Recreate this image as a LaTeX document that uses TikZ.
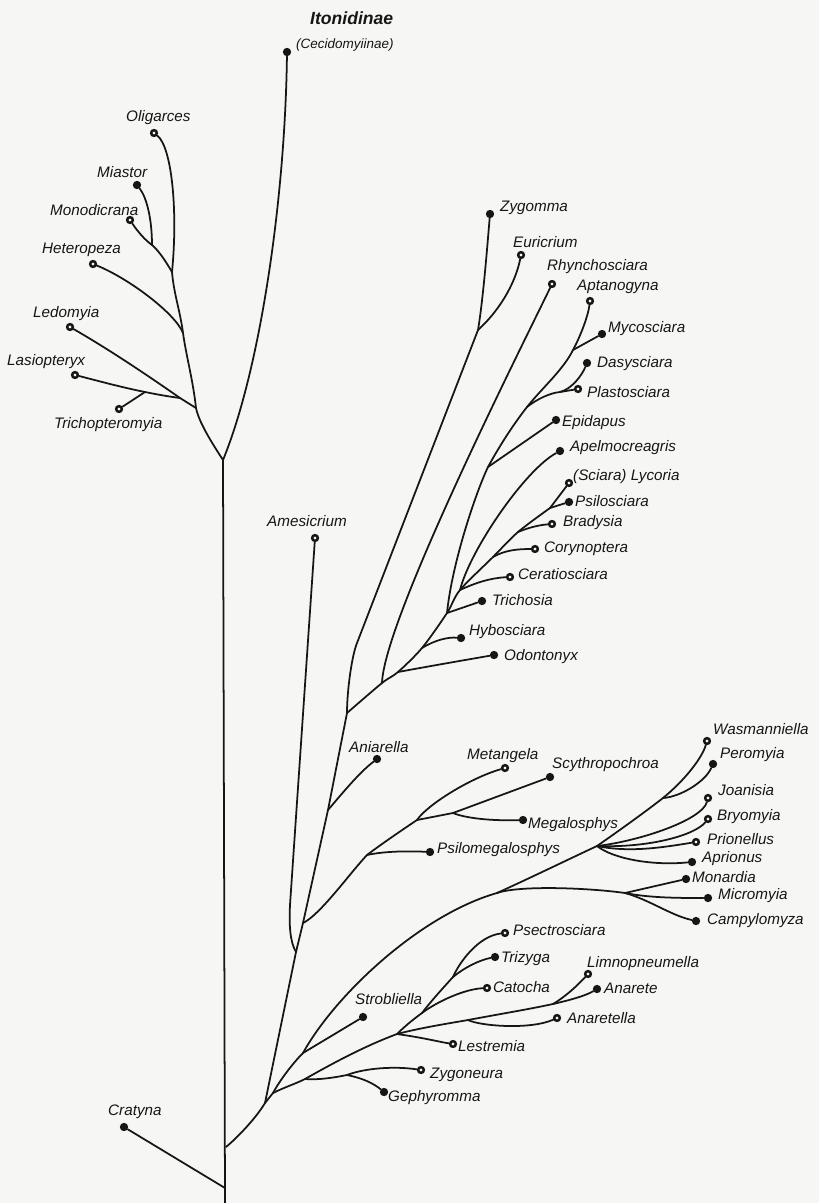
\documentclass[tikz,border=0pt]{standalone}
\usepackage{fontspec}
\setmainfont{Liberation Sans}
\usepackage{tikz}
\usetikzlibrary{positioning}
\definecolor{paper}{RGB}{246,246,244}
\definecolor{ink}{RGB}{22,22,22}

\begin{document}
\begin{tikzpicture}[x=0.03cm, y=-0.03cm,
    branch/.style={draw=ink, line width=1.5pt, line cap=round},
    fulldot/.style={circle, fill=ink, inner sep=0pt, minimum size=0.25cm},
    ringdot/.style={circle, draw=ink, fill=paper, line width=0.075cm,
                    inner sep=0pt, minimum size=0.17cm}, 
    lbl/.style={font=\fontsize{13}{15}\selectfont\itshape, text=ink,
                inner sep=0pt, anchor=west}]
  \useasboundingbox (0,0) rectangle (819,1203);
  \fill[paper] (0,0) rectangle (819,1203);

  % leaves: upper left group
  \node[fulldot] (itonidinae) at (287,52) {};
  \node[ringdot] (oligarces) at (154,133) {};
  \node[fulldot] (miastor) at (137,185) {};
  \node[ringdot] (monodicrana) at (130,220) {};
  \node[ringdot] (heteropeza) at (93,264) {};
  \node[ringdot] (ledomyia) at (70,327) {};
  \node[ringdot] (lasiopteryx) at (75,375) {};
  \node[ringdot] (trichopteromyia) at (119,409) {};
  % leaves: sciara group
  \node[fulldot] (zygomma) at (490,214) {};
  \node[ringdot] (euricrium) at (521,255) {};
  \node[ringdot] (rhynchosciara) at (552,284) {};
  \node[ringdot] (aptanogyna) at (590,301) {};
  \node[fulldot] (mycosciara) at (602,334) {};
  \node[fulldot] (dasysciara) at (587,363) {};
  \node[ringdot] (plastosciara) at (578,389) {};
  \node[fulldot] (epidapus) at (556,420) {};
  \node[fulldot] (apelmocreagris) at (560,451) {};
  \node[ringdot] (lycoria) at (569,483) {};
  \node[fulldot] (psilosciara) at (569,502) {};
  \node[ringdot] (bradysia) at (552,524) {};
  \node[ringdot] (corynoptera) at (535,549) {};
  \node[ringdot] (ceratiosciara) at (510,577) {};
  \node[fulldot] (trichosia) at (482,601) {};
  \node[fulldot] (hybosciara) at (461,638) {};
  \node[fulldot] (odontonyx) at (494,655) {};
  \node[ringdot] (amesicrium) at (315,538) {};
  \node[fulldot] (aniarella) at (377,759) {};
  % leaves: metangela group
  \node[ringdot] (metangela) at (505,768) {};
  \node[fulldot] (scythropochroa) at (550,777) {};
  \node[fulldot] (megalosphys) at (523,820) {};
  \node[fulldot] (psilomegalosphys) at (430,852) {};
  % leaves: right group
  \node[ringdot] (wasmanniella) at (707,741) {};
  \node[fulldot] (peromyia) at (713,764) {};
  \node[ringdot] (joanisia) at (708,798) {};
  \node[ringdot] (bryomyia) at (708,819) {};
  \node[ringdot] (prionellus) at (696,842) {};
  \node[fulldot] (aprionus) at (692,862) {};
  \node[fulldot] (monardia) at (686,879) {};
  \node[fulldot] (micromyia) at (708,898) {};
  \node[fulldot] (campylomyza) at (696,921) {};
  % leaves: lower group
  \node[ringdot] (psectrosciara) at (505,933) {};
  \node[fulldot] (trizyga) at (495,957) {};
  \node[ringdot] (catocha) at (487,988) {};
  \node[ringdot] (limnopneumella) at (588,974) {};
  \node[fulldot] (anarete) at (597,989) {};
  \node[ringdot] (anaretella) at (557,1018) {};
  \node[fulldot] (strobliella) at (363,1017) {};
  \node[ringdot] (lestremia) at (453,1044) {};
  \node[ringdot] (zygoneura) at (421,1070) {};
  \node[fulldot] (gephyromma) at (384,1092) {};
  \node[fulldot] (cratyna) at (124,1127) {};

  % junctions
  \coordinate (fork) at (223,460);
  \coordinate (root) at (225,1203);
  \coordinate (l1) at (196,408);
  \coordinate (l2) at (183,333);
  \coordinate (l3) at (172,272);
  \coordinate (l4) at (152,245);
  \coordinate (l5) at (180,398);
  \coordinate (l6) at (145,392);
  \coordinate (s0) at (347,713);
  \coordinate (s1) at (382,683);
  \coordinate (s2) at (398,672);
  \coordinate (s3) at (422,648);
  \coordinate (s4) at (447,613);
  \coordinate (s5) at (460,590);
  \coordinate (s6) at (493,557);
  \coordinate (s7) at (518,532);
  \coordinate (s8) at (550,508);
  \coordinate (a0) at (357,643);
  \coordinate (a1) at (478,330);
  \coordinate (c1) at (488,467);
  \coordinate (c2) at (527,407);
  \coordinate (c3) at (573,350);
  \coordinate (dp) at (560,392);
  \coordinate (p1) at (303,923);
  \coordinate (p2) at (296,952);
  \coordinate (p3) at (265,1103);
  \coordinate (p4) at (226,1147);
  \coordinate (cr) at (225,1188);
  \coordinate (an) at (328,810);
  \coordinate (am) at (290,905);
  \coordinate (mp) at (367,855);
  \coordinate (ms) at (417,820);
  \coordinate (mg) at (453,813);
  \coordinate (la) at (273,1093);
  \coordinate (st) at (303,1053);
  \coordinate (mn0) at (497,893);
  \coordinate (jb) at (597,846);
  \coordinate (wp) at (663,798);
  \coordinate (mn) at (625,893);
  \coordinate (zg0) at (305,1079);
  \coordinate (zg1) at (347,1075);
  \coordinate (le) at (397,1034);
  \coordinate (ct) at (422,1013);
  \coordinate (tp) at (453,977);
  \coordinate (ae) at (468,1020);
  \coordinate (al) at (553,1004);

  % trunk and upper left group
  \draw[branch] (root) -- (fork);
  \draw[branch] (fork) .. controls (260,370) and (285,200) .. (itonidinae);
  \draw[branch] (fork) .. controls (210,440) and (199,422) .. (l1)
    .. controls (193,380) and (186,355) .. (l2)
    .. controls (180,310) and (174,295) .. (l3)
    .. controls (178,212) and (172,147) .. (oligarces);
  \draw[branch] (l3) .. controls (166,262) and (160,252) .. (l4);
  \draw[branch] (l4) .. controls (152,220) and (147,198) .. (miastor);
  \draw[branch] (l4) .. controls (145,240) and (138,232) .. (monodicrana);
  \draw[branch] (l2) .. controls (175,313) and (128,278) .. (heteropeza);
  \draw[branch] (l1) -- (l5);
  \draw[branch] (l5) .. controls (150,377) and (110,350) .. (ledomyia);
  \draw[branch] (l5) .. controls (165,396) and (155,394) .. (l6)
    .. controls (120,387) and (95,380) .. (lasiopteryx);
  \draw[branch] (l6) -- (trichopteromyia);

  % sciara group
  \draw[branch] (p1) -- (an) -- (s0);
  \draw[branch] (an) .. controls (345,790) and (360,772) .. (aniarella);
  \draw[branch] (s0) .. controls (347,690) and (352,655) .. (a0) -- (a1);
  \draw[branch] (a1) .. controls (483,300) and (487,250) .. (zygomma);
  \draw[branch] (a1) .. controls (498,312) and (515,285) .. (euricrium);
  \draw[branch] plot[smooth, tension=0.5] coordinates
    {(s0) (s1) (s2) (s3) (s4) (s5) (s6) (s7) (s8)};
  \draw[branch] (s1) .. controls (384,620) and (520,350) .. (rhynchosciara);
  \draw[branch] (s2) .. controls (425,667) and (465,660) .. (odontonyx);
  \draw[branch] (s3) .. controls (435,640) and (448,637) .. (hybosciara);
  \draw[branch] (s4) -- (trichosia);
  \draw[branch] (s5) .. controls (475,583) and (490,578) .. (ceratiosciara);
  \draw[branch] (s6) .. controls (505,550) and (518,549) .. (corynoptera);
  \draw[branch] (s7) .. controls (530,527) and (540,525) .. (bradysia);
  \draw[branch] (s8) -- (lycoria);
  \draw[branch] (s8) -- (psilosciara);
  \draw[branch] (s5) .. controls (470,550) and (525,470) .. (apelmocreagris);
  \draw[branch] (s4) .. controls (452,563) and (476,492) .. (c1)
    .. controls (500,445) and (513,425) .. (c2)
    .. controls (543,387) and (563,370) .. (c3)
    .. controls (581,335) and (588,316) .. (aptanogyna);
  \draw[branch] (c1) -- (epidapus);
  \draw[branch] (c3) -- (mycosciara);
  \draw[branch] (c2) .. controls (537,399) and (550,393) .. (dp) -- (plastosciara);
  \draw[branch] (dp) .. controls (572,389) and (582,375) .. (dasysciara);

  % amesicrium and metangela group
  \draw[branch] (p3) -- (p2) -- (p1);
  \draw[branch] (p2) .. controls (290,942) and (289,925) .. (am) -- (amesicrium);
  \draw[branch] (p1) .. controls (320,915) and (350,873) .. (mp)
    .. controls (380,845) and (405,828) .. (ms);
  \draw[branch] (mp) .. controls (385,851) and (410,851) .. (psilomegalosphys);
  \draw[branch] (ms) .. controls (427,805) and (470,778) .. (metangela);
  \draw[branch] (ms) -- (mg) -- (scythropochroa);
  \draw[branch] (mg) .. controls (465,818) and (490,821) .. (megalosphys);

  % lower groups
  \draw[branch] (p4) .. controls (238,1137) and (256,1118) .. (p3) -- (la);
  \draw[branch] (la) .. controls (280,1080) and (293,1063) .. (st)
    .. controls (335,995) and (420,915) .. (mn0)
    .. controls (530,878) and (565,861) .. (jb)
    .. controls (620,830) and (645,812) .. (wp)
    .. controls (685,780) and (702,758) .. (wasmanniella);
  \draw[branch] (wp) .. controls (680,797) and (705,782) .. (peromyia);
  \draw[branch] (jb) .. controls (640,841) and (702,820) .. (joanisia);
  \draw[branch] (jb) .. controls (650,848) and (695,835) .. (bryomyia);
  \draw[branch] (jb) .. controls (630,853) and (665,847) .. (prionellus);
  \draw[branch] (jb) .. controls (612,858) and (650,866) .. (aprionus);
  \draw[branch] (mn0) .. controls (520,885) and (590,888) .. (mn);
  \draw[branch] (mn) -- (monardia);
  \draw[branch] (mn) .. controls (650,898) and (680,898) .. (micromyia);
  \draw[branch] (mn) .. controls (650,900) and (670,915) .. (campylomyza);
  \draw[branch] (st) -- (strobliella);
  \draw[branch] (la) .. controls (285,1087) and (295,1084) .. (zg0)
    .. controls (335,1062) and (365,1046) .. (le);
  \draw[branch] (zg0) .. controls (318,1080) and (332,1078) .. (zg1)
    .. controls (365,1068) and (395,1066) .. (zygoneura);
  \draw[branch] (zg1) .. controls (362,1078) and (373,1083) .. (gephyromma);
  \draw[branch] (le) .. controls (425,1038) and (440,1042) .. (lestremia);
  \draw[branch] (le) .. controls (405,1026) and (415,1018) .. (ct)
    .. controls (432,1000) and (443,988) .. (tp);
  \draw[branch] (ct) .. controls (438,1001) and (465,989) .. (catocha);
  \draw[branch] (tp) .. controls (465,967) and (480,960) .. (trizyga);
  \draw[branch] (tp) .. controls (459,963) and (478,936) .. (psectrosciara);
  \draw[branch] (le) .. controls (420,1028) and (445,1024) .. (ae)
    .. controls (500,1014) and (530,1009) .. (al);
  \draw[branch] (ae) .. controls (480,1026) and (530,1030) .. (anaretella);
  \draw[branch] (al) .. controls (565,997) and (578,985) .. (limnopneumella);
  \draw[branch] (al) .. controls (570,1000) and (585,996) .. (anarete);
  \draw[branch] (cr) -- (cratyna);

  % labels
  \node[lbl, font=\fontsize{15}{17}\selectfont\bfseries\itshape] (itonidinae-t) at (310,18) {Itonidinae};
  \node[lbl, font=\fontsize{11.5}{13}\selectfont\itshape] (cecidomyiinae-t) at (296,45) {(Cecidomyiinae)};
  \node[lbl] (oligarces-t) at (126,118) {Oligarces};
  \node[lbl] (miastor-t) at (97,172) {Miastor};
  \node[lbl] (monodicrana-t) at (50,210) {Monodicrana};
  \node[lbl] (heteropeza-t) at (42,250) {Heteropeza};
  \node[lbl] (ledomyia-t) at (33,314) {Ledomyia};
  \node[lbl] (lasiopteryx-t) at (7,362) {Lasiopteryx};
  \node[lbl] (trichopteromyia-t) at (54,425) {Trichopteromyia};
  \node[lbl] (zygomma-t) at (500,208) {Zygomma};
  \node[lbl] (euricrium-t) at (513,242) {Euricrium};
  \node[lbl] (rhynchosciara-t) at (547,267) {Rhynchosciara};
  \node[lbl] (aptanogyna-t) at (577,287) {Aptanogyna};
  \node[lbl] (mycosciara-t) at (608,329) {Mycosciara};
  \node[lbl] (dasysciara-t) at (597,364) {Dasysciara};
  \node[lbl] (plastosciara-t) at (587,392) {Plastosciara};
  \node[lbl] (epidapus-t) at (562,423) {Epidapus};
  \node[lbl] (apelmocreagris-t) at (570,448) {Apelmocreagris};
  \node[lbl] (lycoria-t) at (573,477) {(Sciara) Lycoria};
  \node[lbl] (psilosciara-t) at (575,501) {Psilosciara};
  \node[lbl] (bradysia-t) at (563,523) {Bradysia};
  \node[lbl] (corynoptera-t) at (544,549) {Corynoptera};
  \node[lbl] (ceratiosciara-t) at (518,574) {Ceratiosciara};
  \node[lbl] (trichosia-t) at (492,600) {Trichosia};
  \node[lbl] (hybosciara-t) at (469,632) {Hybosciara};
  \node[lbl] (odontonyx-t) at (504,657) {Odontonyx};
  \node[lbl] (amesicrium-t) at (267,521) {Amesicrium};
  \node[lbl] (aniarella-t) at (349,747) {Aniarella};
  \node[lbl] (metangela-t) at (467,756) {Metangela};
  \node[lbl] (scythropochroa-t) at (552,765) {Scythropochroa};
  \node[lbl] (megalosphys-t) at (528,825) {Megalosphys};
  \node[lbl] (psilomegalosphys-t) at (437,850) {Psilomegalosphys};
  \node[lbl] (wasmanniella-t) at (713,729) {Wasmanniella};
  \node[lbl] (peromyia-t) at (720,755) {Peromyia};
  \node[lbl] (joanisia-t) at (718,790) {Joanisia};
  \node[lbl] (bryomyia-t) at (717,817) {Bryomyia};
  \node[lbl] (prionellus-t) at (707,839) {Prionellus};
  \node[lbl] (aprionus-t) at (702,859) {Aprionus};
  \node[lbl] (monardia-t) at (692,877) {Monardia};
  \node[lbl] (micromyia-t) at (718,896) {Micromyia};
  \node[lbl] (campylomyza-t) at (707,921) {Campylomyza};
  \node[lbl] (psectrosciara-t) at (513,930) {Psectrosciara};
  \node[lbl] (trizyga-t) at (501,959) {Trizyga};
  \node[lbl] (catocha-t) at (493,987) {Catocha};
  \node[lbl] (limnopneumella-t) at (587,964) {Limnopneumella};
  \node[lbl] (anarete-t) at (604,988) {Anarete};
  \node[lbl] (anaretella-t) at (567,1018) {Anaretella};
  \node[lbl] (strobliella-t) at (355,999) {Strobliella};
  \node[lbl] (lestremia-t) at (458,1046) {Lestremia};
  \node[lbl] (zygoneura-t) at (430,1075) {Zygoneura};
  \node[lbl] (gephyromma-t) at (388,1098) {Gephyromma};
  \node[lbl] (cratyna-t) at (108,1112) {Cratyna};
\end{tikzpicture}
\end{document}
